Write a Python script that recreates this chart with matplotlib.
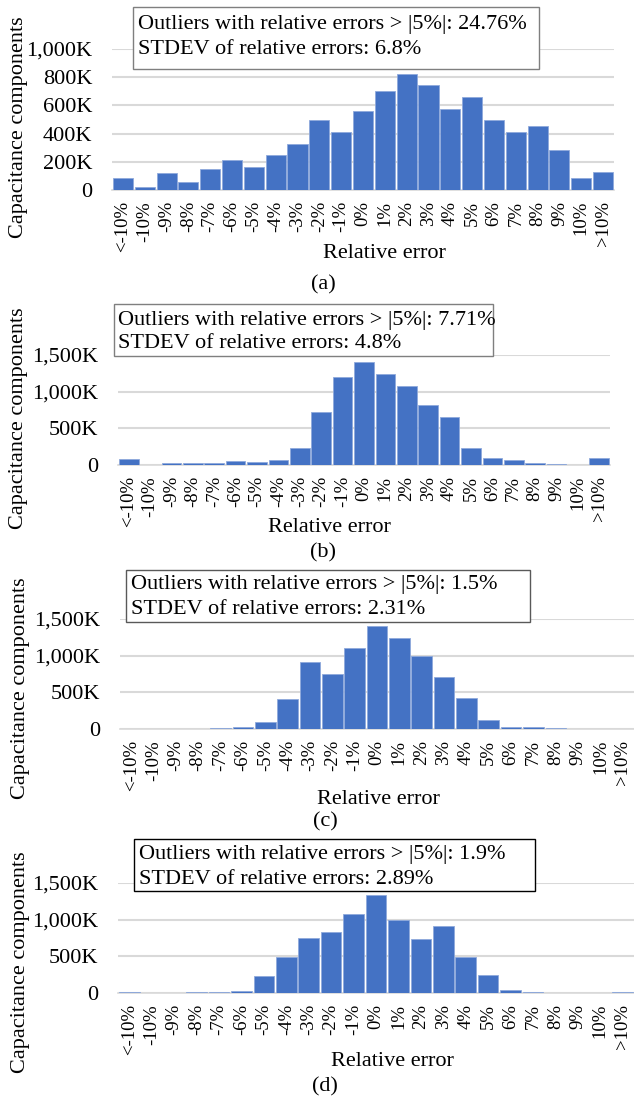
import matplotlib
matplotlib.use('Agg')
import matplotlib.pyplot as plt
from matplotlib.patches import Rectangle

plt.rcParams['font.family'] = ['Liberation Serif', 'DejaVu Serif']

# relative-error bins
categories = ['<-10%', '-10%', '-9%', '-8%', '-7%', '-6%', '-5%', '-4%', '-3%', '-2%', '-1%',
              '0%', '1%', '2%', '3%', '4%', '5%', '6%', '7%', '8%', '9%', '10%', '>10%']

# capacitance component counts, in thousands
counts_a = [87, 21, 121, 57, 147, 210, 163, 246, 326, 494, 411,
            560, 700, 825, 742, 577, 660, 494, 411, 452, 286, 87, 128]
counts_b = [84, 3, 31, 27, 31, 53, 44, 66, 226, 718, 1205,
            1405, 1241, 1077, 818, 659, 232, 93, 62, 27, 18, 2, 102]
counts_c = [0, 0, 1, 2, 14, 32, 91, 414, 909, 745, 1100,
            1405, 1241, 995, 705, 423, 118, 32, 27, 9, 2, 1, 1]
counts_d = [9, 2, 3, 9, 18, 27, 227, 495, 750, 827, 1077,
            1332, 995, 741, 914, 495, 245, 36, 18, 3, 2, 2, 9]

outliers = ['24.76%', '7.71%', '1.5%', '1.9%']
stdevs = ['6.8%', '4.8%', '2.31%', '2.89%']
captions = ['(a)', '(b)', '(c)', '(d)']
yticks_a = [0, 200, 400, 600, 800, 1000]
yticks_bcd = [0, 500, 1000, 1500]

W, H = 634, 1098
fig = plt.figure(figsize=(W / 100, H / 100), dpi=100)


def fx(x):
    return x / W


def fy(y):
    return 1 - y / H


# layout in pixels: axes (left, right, top, bottom), box (l, r, t, b), text x,
# line ys, ylabel center, xlabel center, caption center, box edge colour
layout = [
    dict(counts=counts_a, yticks=yticks_a, ax=(112, 614, 49, 190), box=(133, 539, 7, 69),
         tx=138, lines=(24, 49), ylab=(19, 127), xlab=(384, 254), cap=(323, 285), ec='#7f7f7f'),
    dict(counts=counts_b, yticks=yticks_bcd, ax=(118, 610, 355, 465), box=(114, 493, 304, 356),
         tx=118, lines=(320, 344), ylab=(19, 418), xlab=(329, 528), cap=(323, 553), ec='#7f7f7f'),
    dict(counts=counts_c, yticks=yticks_bcd, ax=(120, 634, 619, 729), box=(126, 530, 570, 622),
         tx=131, lines=(585, 610), ylab=(21, 688), xlab=(378, 799), cap=(325, 822), ec='#595959'),
    dict(counts=counts_d, yticks=yticks_bcd, ax=(118, 634, 883, 993), box=(134, 535, 839, 891),
         tx=139, lines=(854, 879), ylab=(21, 962), xlab=(392, 1062), cap=(325, 1087), ec='black'),
]

x = list(range(len(categories)))

for i, p in enumerate(layout):
    l, r, t, b = p['ax']
    ax = fig.add_axes([fx(l), fy(b), (r - l) / W, (b - t) / H])
    ax.bar(x, p['counts'], width=0.92, color='#4472C4', edgecolor='#8fa9dc', linewidth=0.6, zorder=3)
    ax.set_xlim(-0.5, len(categories) - 0.5)
    ax.set_ylim(0, p['yticks'][-1])
    ax.set_yticks(p['yticks'])
    ax.set_yticklabels(['0' if v == 0 else f'{v:,}K' for v in p['yticks']], fontsize=16)
    ax.set_xticks(x)
    ax.set_xticklabels(categories, rotation=90, fontsize=13.5, va='top', ha='center')
    ax.tick_params(axis='both', length=0)
    ax.tick_params(axis='y', pad=14)
    ax.tick_params(axis='x', pad=8)
    ax.grid(axis='y', color='#d9d9d9', linewidth=1.5, zorder=0)
    for s in ['top', 'right', 'left']:
        ax.spines[s].set_visible(False)
    ax.spines['bottom'].set_color('#d9d9d9')
    ax.spines['bottom'].set_linewidth(1.2)
    ax.spines['bottom'].set_zorder(2)

    # annotation box
    bl, br, bt, bb = p['box']
    fig.patches.append(Rectangle((fx(bl), fy(bb)), (br - bl) / W, (bb - bt) / H,
                                 transform=fig.transFigure, facecolor='white',
                                 edgecolor=p['ec'], linewidth=1.0, zorder=10))
    fig.text(fx(p['tx']), fy(p['lines'][0]), f'Outliers with relative errors > |5%|: {outliers[i]}',
             fontsize=16, va='center', ha='left', zorder=11)
    fig.text(fx(p['tx']), fy(p['lines'][1]), f'STDEV of relative errors: {stdevs[i]}',
             fontsize=16, va='center', ha='left', zorder=11)

    fig.text(fx(p['ylab'][0]), fy(p['ylab'][1]), 'Capacitance components', rotation=90,
             fontsize=16, va='center', ha='center')
    fig.text(fx(p['xlab'][0]), fy(p['xlab'][1]), 'Relative error', fontsize=16,
             va='center', ha='center')
    fig.text(fx(p['cap'][0]), fy(p['cap'][1]), captions[i], fontsize=16,
             va='center', ha='center')

fig.savefig('out.png', dpi=100)
